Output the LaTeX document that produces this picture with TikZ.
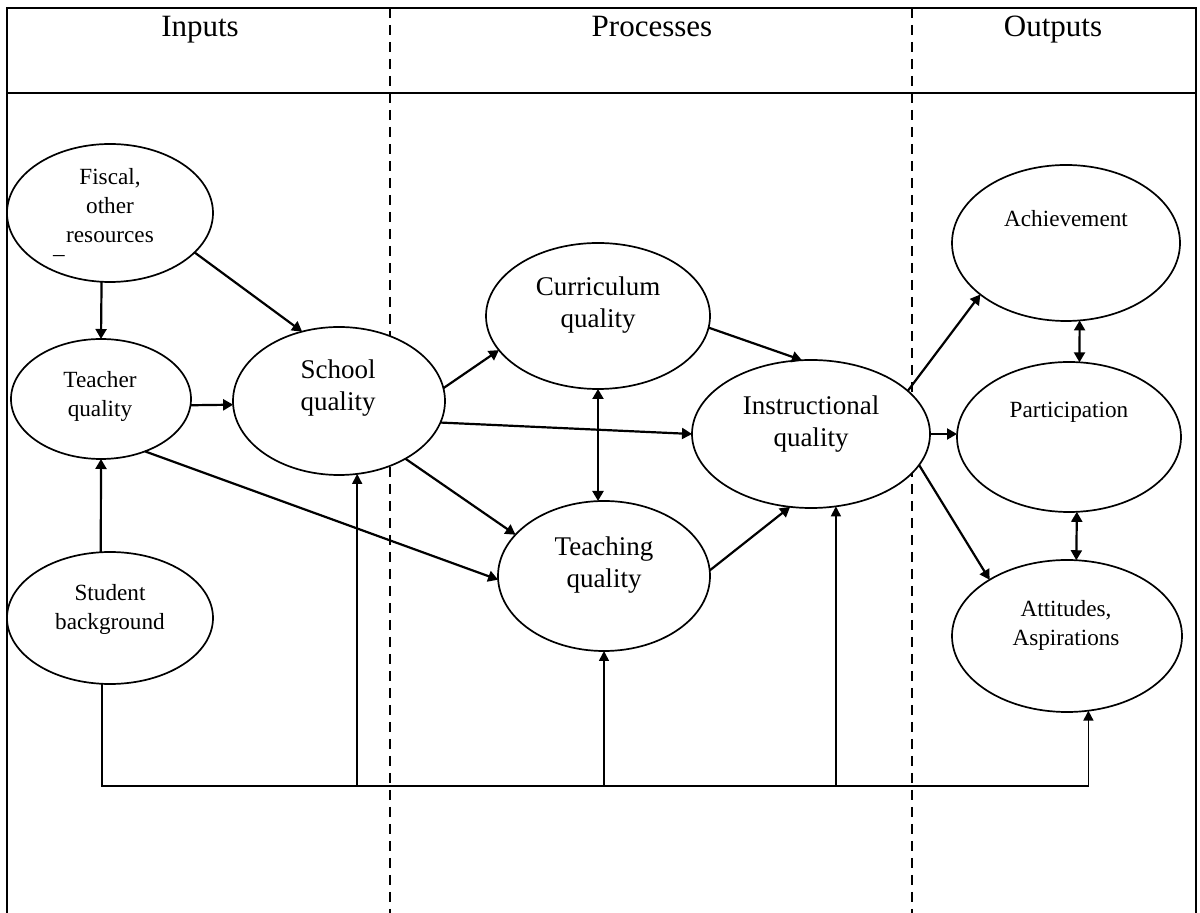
\documentclass[tikz,border=0pt]{standalone}
\usepackage{fontspec}
\setmainfont{Liberation Serif}
\usetikzlibrary{positioning}
\usetikzlibrary{shapes.geometric}
\usetikzlibrary {arrows.meta}
\tikzset{oval/.style={ellipse,draw=black,fill=white,
line width=0.85pt,inner sep=0pt,outer sep=0pt}}
\tikzset{flow/.style={line width=1.1pt,-{Triangle[length=5pt,width=5.5pt]}}}
\tikzset{twoway/.style={line width=1.1pt,
{Triangle[length=5pt,width=5.5pt]}-{Triangle[length=5pt,width=5.5pt]}}}
\tikzset{feed/.style={line width=0.8pt,-{Triangle[length=5pt,width=5pt]}}}
\tikzset{smalltxt/.style={align=center,inner sep=0pt,
font=\fontsize{11.6}{14.5}\selectfont}}
\tikzset{bigtxt/.style={align=center,inner sep=0pt,
font=\fontsize{13.5}{16}\selectfont}}
\tikzset{headtxt/.style={anchor=base,inner sep=0pt,
font=\fontsize{15.5}{18}\selectfont}}
\tikzset{lane/.style={line width=1.4pt,dash pattern=on 5pt off 3.5pt}}

\begin{document}
\begin{tikzpicture}[x=0.5pt,y=-0.5pt]
    \useasboundingbox (0,0) rectangle (1200,913);

    % frame, header and lanes
    \draw[line width=1.2pt] (7,913) -- (7,8) -- (1196,8) -- (1196,913);
    \draw[line width=1.2pt] (7,93) -- (1196,93);
    \draw[lane] (390,8) -- (390,913);
    \draw[lane] (912,8) -- (912,913);

    \node[headtxt] (inputs) at (200,37) {Inputs};
    \node[headtxt] (processes) at (652,37) {Processes};
    \node[headtxt] (outputs) at (1053,37) {Outputs};

    % ovals
    \node[oval, minimum width=103pt, minimum height=69pt] (fiscal) at (110,213) {};
    \node[oval, minimum width=90pt, minimum height=60pt] (teacher) at (101,399) {};
    \node[oval, minimum width=106pt, minimum height=74pt] (school) at (339,401) {};
    \node[oval, minimum width=103pt, minimum height=66pt] (student) at (110,618) {};
    \node[oval, minimum width=112pt, minimum height=73pt] (curriculum) at (598,316) {};
    \node[oval, minimum width=106pt, minimum height=75pt] (teaching) at (604,576) {};
    \node[oval, minimum width=119pt, minimum height=74pt] (instructional) at (811,434) {};
    \node[oval, minimum width=114pt, minimum height=78pt] (achievement) at (1066,243) {};
    \node[oval, minimum width=112pt, minimum height=75pt] (participation) at (1069,437) {};
    \node[oval, minimum width=115pt, minimum height=76pt] (attitudes) at (1067,636) {};

    \node[smalltxt] (fiscaltxt) at (110,206) {Fiscal,\\other\\resources};
    \node[smalltxt] (fiscaldash) at (59,259) {–};
    \node[smalltxt] (teachertxt) at (100,396) {Teacher\\quality};
    \node[bigtxt] (schooltxt) at (338,388) {School\\quality};
    \node[smalltxt] (studenttxt) at (110,609) {Student\\background};
    \node[bigtxt] (curriculumtxt) at (598,305) {Curriculum\\quality};
    \node[bigtxt] (teachingtxt) at (604,565) {Teaching\\quality};
    \node[bigtxt] (instructionaltxt) at (811,424) {Instructional\\quality};
    \node[smalltxt] (achievementtxt) at (1066,219) {Achievement};
    \node[smalltxt] (participationtxt) at (1069,412) {Participation};
    \node[smalltxt] (attitudestxt) at (1066,625) {Attitudes,\\Aspirations};

    % paths between ovals
    \draw[flow] (fiscal.263) -- (teacher.north);
    \draw[flow] (fiscal.335) -- (school.118);
    \draw[flow] (teacher.356) -- (school.182);
    \draw[flow] (student.98) -- (teacher.south);
    \draw[flow] (teacher.310) -- (teaching.182);
    \draw[flow] (school.7) -- (curriculum.199);
    \draw[flow] (school.348) -- (instructional.west);
    \draw[flow] (school.319) -- (teaching.155);
    \draw[twoway] (curriculum.south) -- (curriculum.south |- teaching.north);
    \draw[flow] (curriculum.354) -- (instructional.97);
    \draw[flow] (teaching.3) -- (instructional.254);
    \draw[flow] (instructional.24) -- (achievement.211);
    \draw[flow] (instructional.east) -- (instructional.east -| participation.west);
    \draw[flow] (instructional.344) -- (attitudes.144);
    \draw[twoway] (achievement.280) -- (participation.82);
    \draw[twoway] (participation.276) -- (attitudes.83);

    % student background feeds everything
    \coordinate (bus) at (0,786);
    \draw[feed] (student.263) -- (student.263 |- bus) -- (attitudes.286 |- bus) -- (attitudes.286);
    \draw[feed] (school.284 |- bus) -- (school.284);
    \draw[feed] (teaching.south |- bus) -- (teaching.south);
    \draw[feed] (instructional.289 |- bus) -- (instructional.289);

\end{tikzpicture}
\end{document}
